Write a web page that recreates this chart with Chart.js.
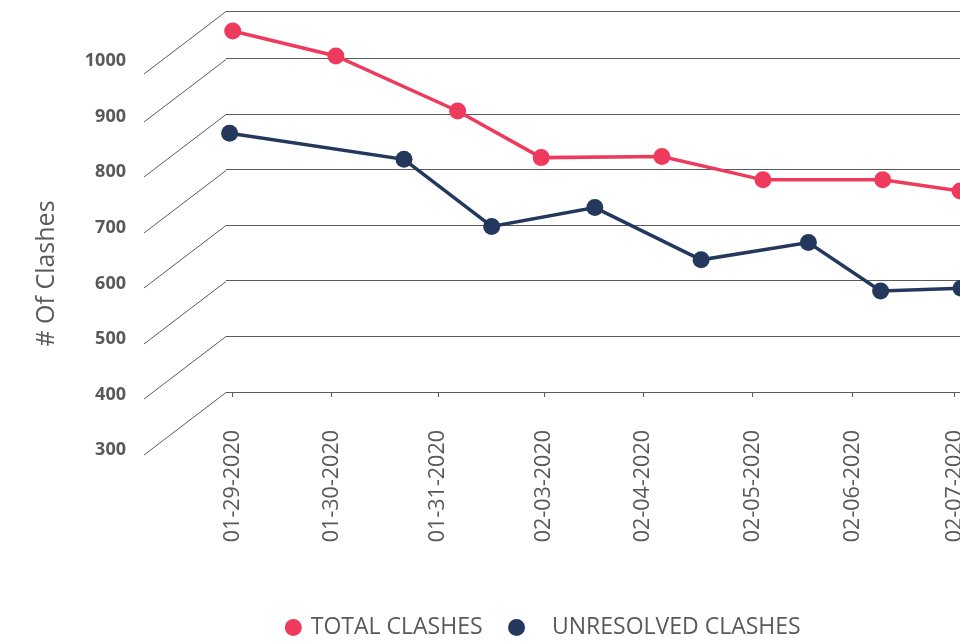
<!DOCTYPE html>
<html>
<head>
<meta charset="utf-8">
<title>Clashes</title>
<script src="https://cdn.jsdelivr.net/npm/chart.js@4/dist/chart.umd.min.js"></script>
<style>
html, body { margin: 0; padding: 0; overflow: hidden; background: #fff; }
</style>
</head>
<body>
<canvas id="clashChart" width="1108" height="649"></canvas>
<script>
// dates on the x axis and where each one sits (day units)
var dates = ['01-29-2020', '01-30-2020', '01-31-2020', '02-03-2020', '02-04-2020', '02-05-2020', '02-06-2020', '02-07-2020'];
var datePos = [0, 0.96, 1.99, 3.02, 3.98, 5.04, 6.01, 7.0];

// total clashes
var totalX = [0, 1.0, 2.18, 2.99, 4.16, 5.14, 6.30, 7.05];
var totalY = [950, 905, 806, 722, 724, 682, 682, 662];

// unresolved clashes
var unresolvedX = [-0.03, 1.66, 2.51, 3.51, 4.54, 5.58, 6.28, 7.06];
var unresolvedY = [766, 719, 598, 632, 538, 569, 482, 487];

// value axis
var yLabels = [300, 400, 500, 600, 700, 800, 900, 1000];
var yGrid = [300, 400, 500, 600, 700, 800, 900];
var yMin = 300;
var yMax = 986;
var yTitle = '# Of Clashes';

var textColor = '#595959';
var gridColor = '#5a5a5a';

Chart.defaults.font.family = "'Open Sans', sans-serif";

function toPoints(xs, ys) {
    return xs.map(function (x, i) { return { x: x, y: ys[i] }; });
}

// side wall of the "3d" box: slanted gridlines, value labels, axis title
var sideWall = {
    id: 'sideWall',
    beforeDatasetsDraw: function (chart) {
        var ctx = chart.ctx;
        var y = chart.scales.y;
        var area = chart.chartArea;
        ctx.save();
        ctx.strokeStyle = gridColor;
        ctx.lineWidth = 1;
        y.ticks.forEach(function (t) {
            var py = Math.round(y.getPixelForValue(t.value)) + 0.5;
            ctx.beginPath();
            ctx.moveTo(area.left - 82, py + 62.5);
            ctx.lineTo(area.left, py);
            ctx.stroke();
        });

        ctx.fillStyle = textColor;
        ctx.font = "bold 18px 'Open Sans'";
        ctx.textAlign = 'right';
        ctx.textBaseline = 'middle';
        yLabels.forEach(function (v) {
            ctx.fillText(String(v), area.left - 100, y.getPixelForValue(v) + 58);
        });

        ctx.translate(47, (area.top + area.bottom) / 2 + 72);
        ctx.rotate(-Math.PI / 2);
        ctx.textAlign = 'center';
        ctx.font = "25px 'Open Sans'";
        ctx.fillText(yTitle, 0, 0);
        ctx.restore();
    }
};

var ctx = document.getElementById('clashChart').getContext('2d');

var clashChart = new Chart(ctx, {
    type: 'line',
    data: {
        datasets: [{
            label: 'TOTAL CLASHES',
            data: toPoints(totalX, totalY),
            borderColor: '#ee3a5c',
            backgroundColor: '#ee3a5c',
            borderWidth: 3.5,
            pointRadius: 8.5,
            pointBorderWidth: 0,
            pointBackgroundColor: '#ee3a5c',
            tension: 0,
            clip: false
        }, {
            label: 'UNRESOLVED CLASHES',
            data: toPoints(unresolvedX, unresolvedY),
            borderColor: '#23385c',
            backgroundColor: '#23385c',
            borderWidth: 3.5,
            pointRadius: 8.5,
            pointBorderWidth: 0,
            pointBackgroundColor: '#23385c',
            tension: 0,
            clip: false
        }]
    },
    options: {
        responsive: false,
        animation: false,
        layout: {
            padding: { top: 11, right: 20, bottom: 0, left: 0 }
        },
        plugins: {
            legend: {
                position: 'bottom',
                labels: {
                    usePointStyle: true,
                    pointStyle: 'circle',
                    boxWidth: 12,
                    boxHeight: 12,
                    padding: 28,
                    color: textColor,
                    font: { size: 23 },
                    generateLabels: function (chart) {
                        var items = Chart.defaults.plugins.legend.labels.generateLabels(chart);
                        if (items[1]) items[1].text = '   ' + items[1].text;
                        return items;
                    }
                }
            },
            tooltip: { enabled: false }
        },
        scales: {
            x: {
                type: 'linear',
                min: -0.065,
                max: 8.29,
                grid: {
                    drawOnChartArea: false,
                    drawTicks: true,
                    tickLength: 5,
                    color: gridColor
                },
                border: { display: true, color: gridColor },
                ticks: {
                    autoSkip: false,
                    minRotation: 90,
                    maxRotation: 90,
                    padding: 33,
                    color: textColor,
                    font: { size: 21.5 },
                    callback: function (value, index) { return dates[index]; }
                },
                afterBuildTicks: function (scale) {
                    scale.ticks = datePos.map(function (v) { return { value: v }; });
                },
                afterFit: function (scale) { scale.height = 196; }
            },
            y: {
                min: yMin,
                max: yMax,
                grid: { color: gridColor, drawTicks: false },
                border: { display: false },
                ticks: { display: false },
                afterBuildTicks: function (scale) {
                    var t = yGrid.map(function (v) { return { value: v }; });
                    t.push({ value: scale.max });
                    scale.ticks = t;
                },
                afterFit: function (scale) { scale.width = 226; }
            }
        }
    },
    plugins: [sideWall]
});
</script>
</body>
</html>
